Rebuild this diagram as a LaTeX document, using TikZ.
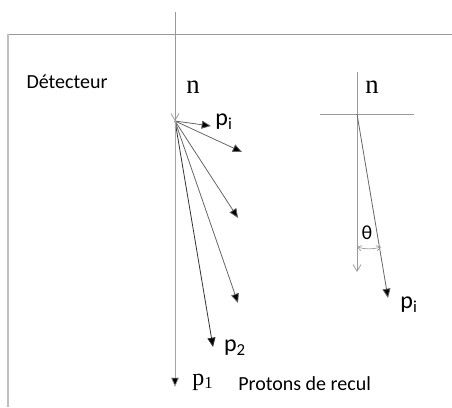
\documentclass[tikz,border=0pt]{standalone}
\usepackage{fontspec}
\setsansfont{Carlito}
\setmainfont{Liberation Serif}
\usetikzlibrary{arrows.meta}
\begin{document}
\begin{tikzpicture}[x=0.75pt,y=-0.75pt,
    trait/.style={draw=black!40, line width=0.6pt},
    proton/.style={draw=black!60, line width=0.6pt, -{Triangle[length=7pt,width=6pt,fill=black]}},
    neutron/.style={draw=black!40, line width=0.6pt, -{Straight Barb[length=5pt,width=6pt]}},
    etiq/.style={font=\sffamily\fontsize{15}{17}\selectfont, inner sep=0pt},
    indice/.style={font=\sffamily\fontsize{18}{20}\selectfont, inner sep=0pt},
    lettre/.style={font=\fontsize{20}{22}\selectfont, inner sep=0pt}]
  \useasboundingbox (0,0) rectangle (452,407);
  % Detecteur
  \draw[trait] (8,34) -- (452,34);
  \draw[draw=black!25, line width=1.2pt] (8,34) -- (8,407);
  \node[etiq] (det) at (67,82) {Détecteur};
  % Neutron incident
  \coordinate (haut) at (175,12);
  \coordinate (choc) at (175,121);
  \draw[neutron] (haut) -- (choc);
  \node[lettre] (n) at (193,87) {n};
  % Protons de recul
  \coordinate (tpi) at (211,126);
  \coordinate (ta) at (242,152);
  \coordinate (tb) at (238,218);
  \coordinate (tc) at (238,303);
  \coordinate (tp2) at (213,347);
  \coordinate (tp1) at (175,387);
  \draw[proton] (choc) -- (tpi);
  \draw[proton] (choc) -- (ta);
  \draw[proton] (choc) -- (tb);
  \draw[proton] (choc) -- (tc);
  \draw[proton, draw=black!80] (choc) -- (tp2);
  \draw[proton, draw=black!35] (choc) -- (tp1);
  \node[indice] (pi) at (224,122) {p\textsubscript{i}};
  \node[indice] (p2) at (235,348) {p\textsubscript{2}};
  \node[lettre, font=\fontsize{18}{20}\selectfont] (p1) at (203,382) {p\textsubscript{1}};
  \node[etiq, anchor=west] (recul) at (238,384) {Protons de recul};
  % Angle theta
  \coordinate (o) at (357,114);
  \coordinate (haut2) at (357,72);
  \coordinate (bas2) at (357,272);
  \coordinate (tpi2) at (388,298);
  \draw[trait] (320,114) -- (414,114);
  \draw[trait] (haut2) -- (o);
  \draw[neutron] (o) -- (bas2);
  \draw[proton] (o) -- (tpi2);
  \node[lettre] (n2) at (372,87) {n};
  \node[indice] (pi2) at (409,305) {p\textsubscript{i}};
  \draw[draw=black!40, line width=0.5pt, {Straight Barb[length=3pt,width=4pt]}-{Straight Barb[length=3pt,width=4pt]}]
    (357,247) to[bend right=15] (381,247);
  \node[etiq] (theta) at (367,233) {θ};
\end{tikzpicture}
\end{document}
